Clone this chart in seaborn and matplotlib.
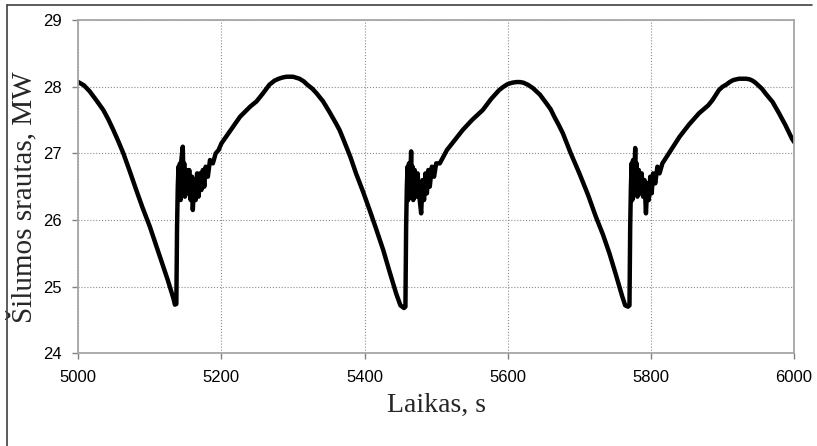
import numpy as np
import pandas as pd
import seaborn as sns
import matplotlib.pyplot as plt
from matplotlib.lines import Line2D

# values
laikas = [5000, 5008, 5016, 5025, 5035, 5042, 5049, 5056, 5063, 5072, 5081, 5090, 5100, 5114, 5125, 5133, 5135, 5137,
          5138, 5139, 5140, 5141, 5142, 5143, 5144, 5146, 5147, 5148, 5149, 5151, 5153, 5155,
          5157, 5159, 5160, 5162, 5164, 5166, 5168, 5170, 5172, 5174, 5176, 5178, 5181, 5184,
          5188, 5192, 5196, 5200, 5213, 5226, 5240, 5249, 5258, 5267, 5274, 5280, 5286, 5291, 5300, 5309,
          5315, 5320, 5327, 5333, 5342, 5351, 5360, 5365, 5370, 5380, 5388, 5398, 5407, 5416, 5426, 5435, 5444,
          5450, 5455, 5457,
          5458, 5459, 5460, 5461, 5462, 5463, 5465, 5466, 5467, 5468, 5470, 5472, 5474, 5476,
          5479, 5481, 5483, 5485, 5487, 5489, 5491, 5494, 5497, 5500, 5505, 5515, 5526, 5537,
          5550, 5565, 5577, 5588, 5594, 5600, 5606, 5612, 5617, 5622, 5628, 5635, 5645, 5654, 5660, 5665, 5671, 5677, 5688, 5700,
          5712, 5723, 5733, 5742, 5751, 5760, 5764, 5768, 5770,
          5771, 5772, 5773, 5774, 5775, 5776, 5778, 5779, 5780, 5781, 5783, 5785, 5787, 5789,
          5791, 5793, 5795, 5797, 5799, 5801, 5803, 5806, 5809, 5812, 5816, 5828, 5840, 5853,
          5867, 5880, 5886, 5895, 5900, 5905, 5910, 5915, 5923, 5933, 5938, 5942, 5946, 5950, 5955, 5960, 5970, 5979, 5988,
          5997, 6000]
srautas = [28.07, 28.02, 27.93, 27.80, 27.65, 27.51, 27.35, 27.18, 27.00, 26.73, 26.45, 26.18, 25.90, 25.45, 25.10, 24.82, 24.73, 24.74,
           25.9, 26.5, 26.8, 26.35, 26.85, 26.3, 26.9, 27.1, 26.6, 26.85, 26.35, 26.75, 26.4, 26.75,
           26.3, 26.65, 26.15, 26.6, 26.3, 26.7, 26.35, 26.7, 26.45, 26.75, 26.5, 26.8, 26.65, 26.9,
           26.85, 27.0, 27.05, 27.15, 27.35, 27.55, 27.70, 27.78, 27.90, 28.03, 28.09, 28.12, 28.14, 28.15, 28.15, 28.12,
           28.08, 28.03, 27.97, 27.90, 27.78, 27.62, 27.45, 27.35, 27.22, 26.95, 26.70, 26.42, 26.15, 25.87, 25.55, 25.22, 24.90,
           24.72, 24.68, 24.70,
           25.9, 26.5, 26.8, 26.3, 26.85, 26.4, 27.03, 26.5, 26.8, 26.3, 26.75, 26.35, 26.7, 26.4,
           26.1, 26.6, 26.3, 26.7, 26.4, 26.75, 26.5, 26.8, 26.65, 26.85, 26.85, 27.05, 27.2, 27.35,
           27.5, 27.65, 27.82, 27.95, 28.0, 28.04, 28.06, 28.07, 28.07, 28.06, 28.03, 27.98, 27.88, 27.75, 27.66, 27.55, 27.43, 27.30, 27.00, 26.70,
           26.38, 26.05, 25.78, 25.50, 25.18, 24.85, 24.72, 24.70, 24.72,
           25.9, 26.5, 26.85, 26.3, 26.9, 26.4, 27.08, 26.5, 26.85, 26.35, 26.75, 26.4, 26.7, 26.35,
           26.6, 26.1, 26.55, 26.3, 26.65, 26.4, 26.7, 26.55, 26.8, 26.7, 26.85, 27.05, 27.25, 27.43,
           27.6, 27.72, 27.8, 27.95, 28.0, 28.03, 28.07, 28.10, 28.12, 28.12, 28.11, 28.09, 28.06, 28.02, 27.97, 27.90, 27.77, 27.60, 27.42,
           27.22, 27.17]
x_ticks = [5000, 5200, 5400, 5600, 5800, 6000]
y_ticks = [24, 25, 26, 27, 28, 29]

df = pd.DataFrame({"Laikas": laikas, "Srautas": srautas})

sns.set_style("white")
plt.rcParams['font.family'] = ['Liberation Sans', 'DejaVu Sans']

fig = plt.figure(figsize=(8.17, 4.46), dpi=100)
ax = fig.add_axes([0.0958, 0.2078, 0.8762, 0.7472])

sns.lineplot(data=df, x="Laikas", y="Srautas", color="black", linewidth=3.2,
             estimator=None, sort=False, ax=ax)

ax.set_xlim(5000, 6000)
ax.set_ylim(24, 29)
ax.set_xticks(x_ticks)
ax.set_yticks(y_ticks)
ax.grid(True, color="#8c8c8c", linestyle=":", linewidth=0.8)
for s in ax.spines.values():
    s.set_color("#a6a6a6")
    s.set_linewidth(1.3)
ax.tick_params(bottom=True, left=True, direction="out", length=4, width=1,
               color="#808080", labelsize=12, pad=8, labelcolor="black")

ax.set_xlabel("Laikas, s", family="Liberation Serif", fontsize=20, labelpad=6)
ax.set_ylabel("Šilumos srautas, MW", family="Liberation Serif", fontsize=21)
ax.yaxis.set_label_coords(-0.057, 0.47)

# frame round the figure (top and left edges)
fig.add_artist(Line2D([7 / 817, 812 / 817], [1 - 5 / 446, 1 - 5 / 446], color="#404040", linewidth=1.2))
fig.add_artist(Line2D([7 / 817, 7 / 817], [0, 1 - 5 / 446], color="#404040", linewidth=1.2))

plt.savefig("out.png", dpi=100)
